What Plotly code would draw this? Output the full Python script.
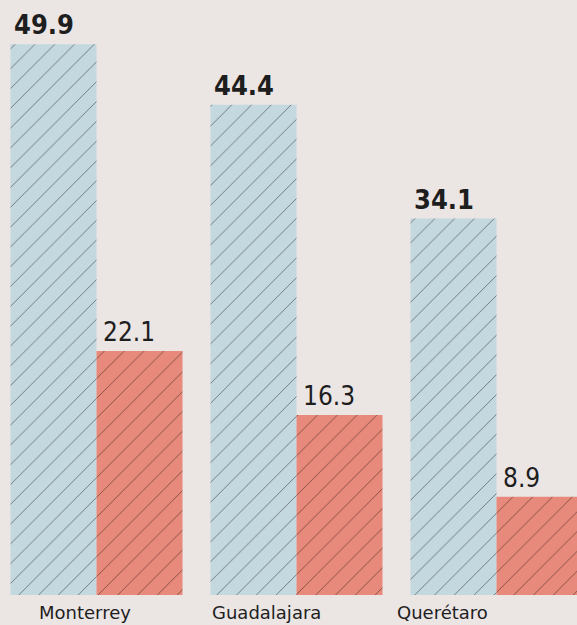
import plotly.graph_objects as go

cities = ["Monterrey", "Guadalajara", "Querétaro"]
serie_a = [49.9, 44.4, 34.1]
serie_b = [22.1, 16.3, 8.9]
label_a = ["49.9", "44.4", "34.1"]
label_b = ["22.1", "16.3", "8.9"]

BG = "#ebe5e4"
BLUE = "#c4d8df"
RED = "#e78a7b"
INK = "#1e1e1e"
FONT_VAL = "DejaVu Sans Condensed, DejaVu Sans, sans-serif"

fig = go.Figure()
fig.add_trace(go.Bar(
    x=cities, y=serie_a, name="A",
    marker=dict(color=BLUE, line=dict(width=0),
                pattern=dict(shape="/", fgcolor="#1c2024", bgcolor=BLUE,
                             size=14, solidity=0.07)),
))
fig.add_trace(go.Bar(
    x=cities, y=serie_b, name="B",
    marker=dict(color=RED, line=dict(width=0),
                pattern=dict(shape="/", fgcolor="#2a1512", bgcolor=RED,
                             size=14, solidity=0.07)),
))

annotations = []
for i, c in enumerate(cities):
    annotations.append(dict(
        x=i, y=serie_a[i], xref="x", yref="y", text=label_a[i],
        showarrow=False, xanchor="left", yanchor="bottom",
        xshift=-85, yshift=2,
        font=dict(family=FONT_VAL, size=27, color=INK, weight="bold"),
    ))
    annotations.append(dict(
        x=i, y=serie_b[i], xref="x", yref="y", text=label_b[i],
        showarrow=False, xanchor="left", yanchor="bottom",
        xshift=4, yshift=2,
        font=dict(family=FONT_VAL, size=26, color=INK),
    ))

label_shift = [-12, -30, -54]
for i, c in enumerate(cities):
    annotations.append(dict(
        x=i, y=0, xref="x", yref="y", text=c,
        showarrow=False, xanchor="center", yanchor="top",
        xshift=label_shift[i], yshift=-5,
        font=dict(family="DejaVu Sans", size=18, color=INK),
    ))

fig.update_layout(
    width=577, height=625,
    margin=dict(l=0, r=0, t=0, b=30),
    paper_bgcolor=BG, plot_bgcolor=BG,
    barmode="group", bargap=0.14, bargroupgap=0,
    showlegend=False,
    annotations=annotations,
    xaxis=dict(range=[-0.4825, 2.4025], showticklabels=False,
               showgrid=False, zeroline=False, showline=False, ticks=""),
    yaxis=dict(range=[0, 53.9], visible=False, showgrid=False, zeroline=False),
)

fig.write_html(
    "out.html",
    config={"displayModeBar": False},
    post_script="document.body.style.margin='0';document.body.style.overflow='hidden';",
)
